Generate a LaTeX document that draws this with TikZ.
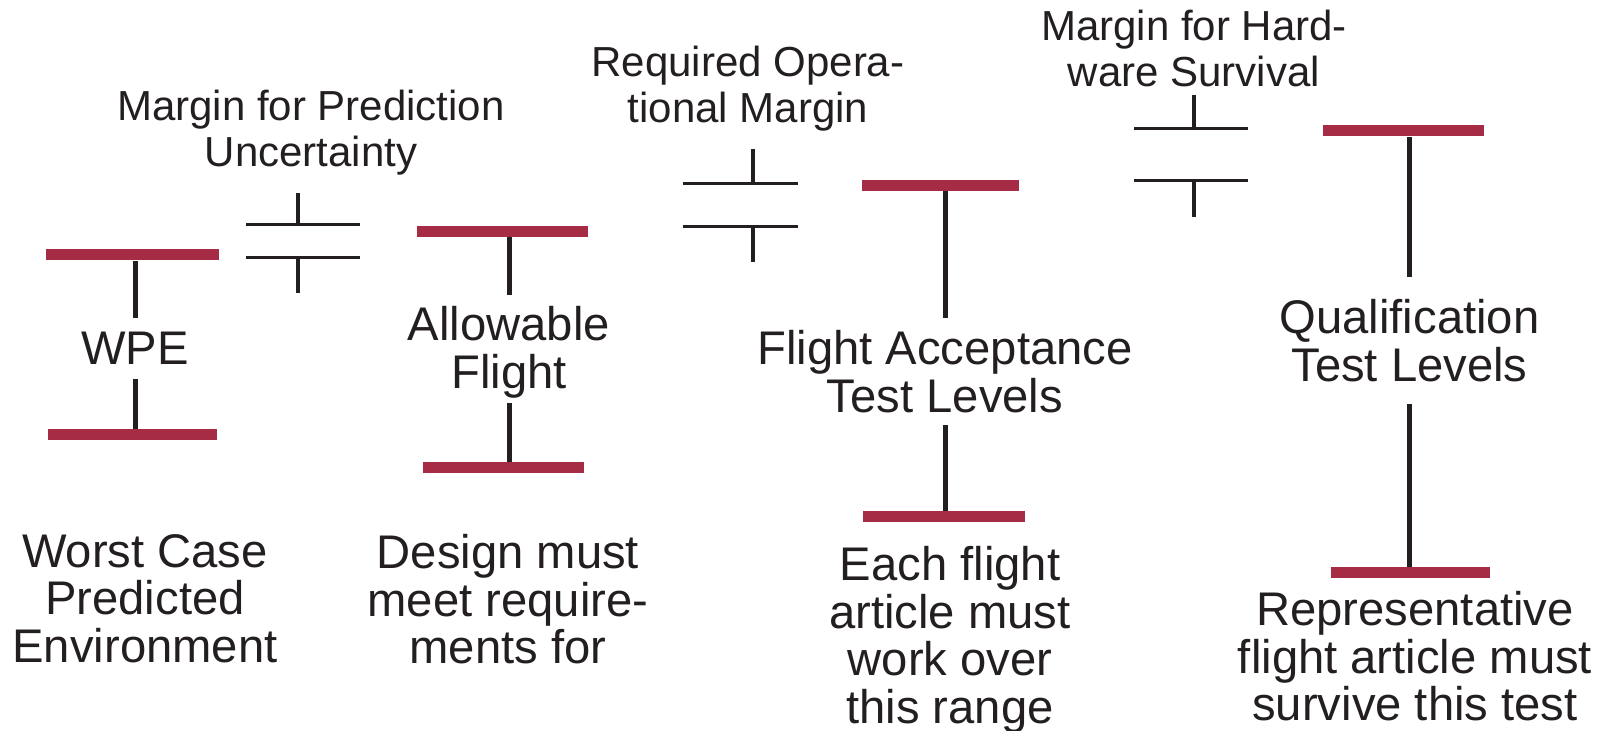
\documentclass[tikz,border=0pt]{standalone}
\usepackage{fontspec}
\setmainfont{Liberation Sans}
\usetikzlibrary{calc}
\definecolor{barred}{RGB}{166,43,69}
\definecolor{ink}{RGB}{35,31,32}
\tikzset{
	bar/.style={fill=barred, inner sep=0pt, minimum height=5.5pt, minimum width=#1},
	stem/.style={draw=ink, line width=2.5pt},
	lbl/.style={text=ink, align=center, inner xsep=0pt, inner ysep=0pt, font=\fontsize{23.6}{23.8}\selectfont},
	toplbl/.style={text=ink, align=center, inner sep=0pt, font=\fontsize{21}{23}\selectfont},
	plate/.style={draw=ink, line width=1.5pt},
	tick/.style={draw=ink, line width=2.2pt}
}
\def\gapmark(#1,#2,#3)(#4:#5:#6:#7){\draw[tick] (#3,#4) -- (#3,#5); \draw[plate] (#1,#5) -- (#2,#5); \draw[plate] (#1,#6) -- (#2,#6); \draw[tick] (#3,#6) -- (#3,#7);}

\begin{document}
\begin{tikzpicture}[x=0.5pt, y=-0.5pt]
		%%%%% START %%%%%
		\useasboundingbox (0,0) rectangle (1612,731);
		
		% worst case predicted environment
		\node[bar=86.5pt] (wpetop) at (132.5,255) {};
		\node[bar=84.5pt] (wpebot) at (132.5,434.5) {};
		\node[lbl, inner ysep=7pt, anchor=north] (wpe) at (135,318) {WPE};
		\draw[stem] (wpe.north) -- (wpe.north |- wpetop.south);
		\draw[stem] (wpe.south) -- (wpe.south |- wpebot.north);
		\node[lbl, anchor=north] (worst) at (145,534) {Worst Case\\Predicted\\Environment};
		
		\node[toplbl, anchor=north] (predlbl) at (311,90) {Margin for Prediction\\Uncertainty};
		\gapmark(246,360,298)(193:225:258:293);
		
		% allowable flight
		\node[bar=85.5pt] (aftop) at (502.5,231.5) {};
		\node[bar=80.5pt] (afbot) at (503.5,467.5) {};
		\node[lbl, inner ysep=5.5pt, anchor=north] (allow) at (509,295) {Allowable\\Flight};
		\draw[stem] (allow.north) -- (allow.north |- aftop.south);
		\draw[stem, shorten <=-3pt] (allow.south) -- (allow.south |- afbot.north);
		\node[lbl, anchor=north] (design) at (508,534) {Design must\\meet require-\\ments for};
		
		\node[toplbl, anchor=north] (reqlbl) at (748,46) {Required Opera-\\tional Margin};
		\gapmark(683,798,753)(149:184:227:262);
		
		% flight acceptance
		\node[bar=78.5pt] (fatop) at (940.5,185.5) {};
		\node[bar=81pt] (fabot) at (944,517) {};
		\node[lbl, inner ysep=6pt, anchor=north] (fa) at (945,318) {Flight Acceptance\\Test Levels};
		\draw[stem] (fa.north) -- (fa.north |- fatop.south);
		\draw[stem] (fa.south) -- (fa.south |- fabot.north);
		\node[lbl, anchor=north] (each) at (950,546) {Each flight\\article must\\work over\\this range};
		
		\node[toplbl, anchor=north] (hwlbl) at (1194,10) {Margin for Hard-\\ware Survival};
		\gapmark(1134,1248,1194)(95:129:181:217);
		
		% qualification
		\node[bar=80.5pt] (qtop) at (1403.5,131) {};
		\node[bar=79.5pt] (qbot) at (1410.5,573) {};
		\node[lbl, inner ysep=11pt, anchor=north] (qual) at (1409.5,277) {Qualification\\Test Levels};
		\draw[stem] (qual.north) -- (qual.north |- qtop.south);
		\draw[stem] (qual.south) -- (qual.south |- qbot.north);
		\node[lbl, anchor=north] (repr) at (1415,591) {Representative\\flight article must\\survive this test};
		
		%%%%% END %%%%%
\end{tikzpicture}
\end{document}
